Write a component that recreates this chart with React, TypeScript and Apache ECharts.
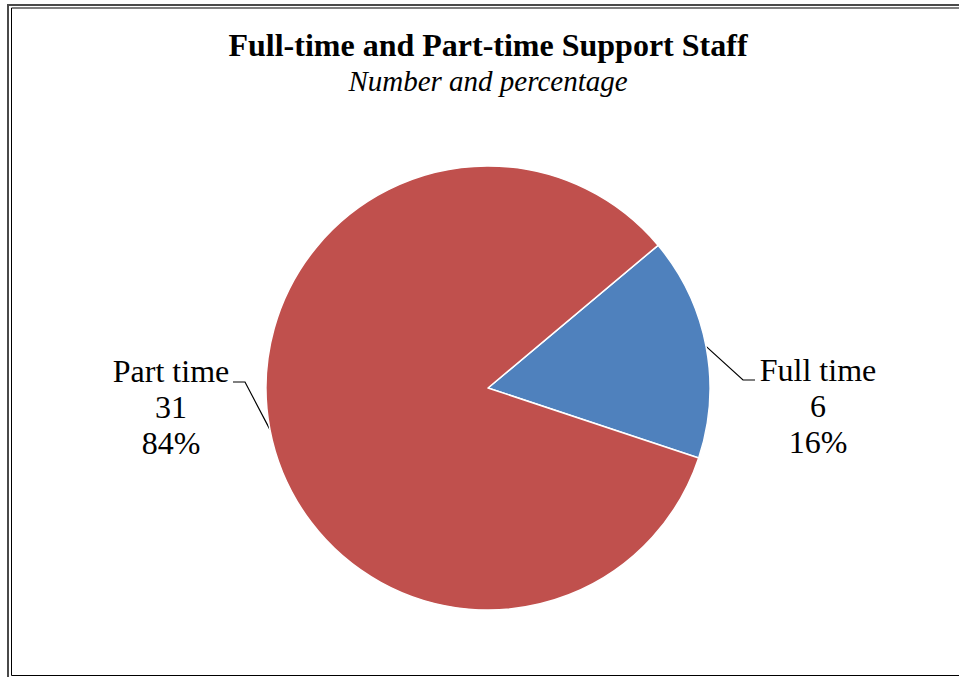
import React, { useEffect, useRef } from "react";
import * as echarts from "echarts";

const TITLE = "Full-time and Part-time Support Staff";
const SUBTITLE = "Number and percentage";
const categories = ["Full time", "Part time"];
const values = [6, 31];
const colors = ["#4F81BD", "#C0504D"];

const FONT = "'Liberation Serif', 'Times New Roman', serif";
const CENTER = [488, 388];
const RADIUS = 222;
const START_ANGLE = 40;

// label placement (layout only): label centre, elbow and end of the leader line
const LABEL_LAYOUT = [
  { x: 818, y: 406, elbow: [743, 380], end: [755, 380] },
  { x: 171, y: 407, elbow: [245, 382], end: [233, 382] },
];

export default function App() {
  const ref = useRef<HTMLDivElement>(null);
  useEffect(() => {
    if (!ref.current) return;
    const chart = echarts.init(ref.current, null, { renderer: "svg" });
    const total = values.reduce((a, b) => a + b, 0);
    const data = categories.map((c, i) => ({
      name: c,
      value: values[i],
      itemStyle: { color: colors[i] },
    }));
    chart.setOption({
      animation: false,
      backgroundColor: "#ffffff",
      graphic: [
        {
          type: "rect",
          silent: true,
          shape: { x: 8, y: 5, width: 1000, height: 1000 },
          style: { fill: "none", stroke: "#4a4a4a", lineWidth: 2 },
        },
        {
          type: "rect",
          silent: true,
          shape: { x: 11.5, y: 8, width: 1000, height: 667.5 },
          style: { fill: "none", stroke: "#000000", lineWidth: 1 },
        },
        {
          type: "text",
          x: 488,
          y: 44.5,
          style: {
            text: TITLE,
            fontFamily: FONT,
            fontWeight: "bold",
            fontSize: 32,
            fill: "#000",
            align: "center",
            verticalAlign: "middle",
          },
        },
        {
          type: "text",
          x: 488,
          y: 80.5,
          style: {
            text: SUBTITLE,
            fontFamily: FONT,
            fontStyle: "italic",
            fontSize: 29,
            fill: "#000",
            align: "center",
            verticalAlign: "middle",
          },
        },
      ],
      series: [
        {
          type: "pie",
          center: CENTER,
          radius: RADIUS,
          startAngle: START_ANGLE,
          clockwise: true,
          data,
          itemStyle: { borderColor: "#ffffff", borderWidth: 1.5 },
          emphasis: { disabled: true },
          label: {
            show: true,
            position: "outside",
            fontFamily: FONT,
            fontSize: 32,
            lineHeight: 36,
            color: "#000",
            formatter: (p: any) =>
              `${p.name}\n${p.value}\n${Math.round((p.value / total) * 100)}%`,
          },
          labelLine: {
            show: true,
            lineStyle: { color: "#000", width: 1.2 },
          },
          labelLayout: (p: any) => {
            const i = p.dataIndex;
            let acc = 0;
            for (let j = 0; j < i; j++) acc += values[j];
            const mid = START_ANGLE - ((acc + values[i] / 2) / total) * 360;
            const rad = (mid * Math.PI) / 180;
            const ax = CENTER[0] + RADIUS * Math.cos(rad);
            const ay = CENTER[1] - RADIUS * Math.sin(rad);
            const L = LABEL_LAYOUT[i];
            return {
              x: L.x,
              y: L.y,
              align: "center",
              verticalAlign: "middle",
              labelLinePoints: [[ax, ay], L.elbow, L.end],
            };
          },
        },
      ],
    });
    return () => chart.dispose();
  }, []);
  return (
    <div
      ref={ref}
      style={{ position: "fixed", left: 0, top: 0, width: 959, height: 677 }}
    />
  );
}
